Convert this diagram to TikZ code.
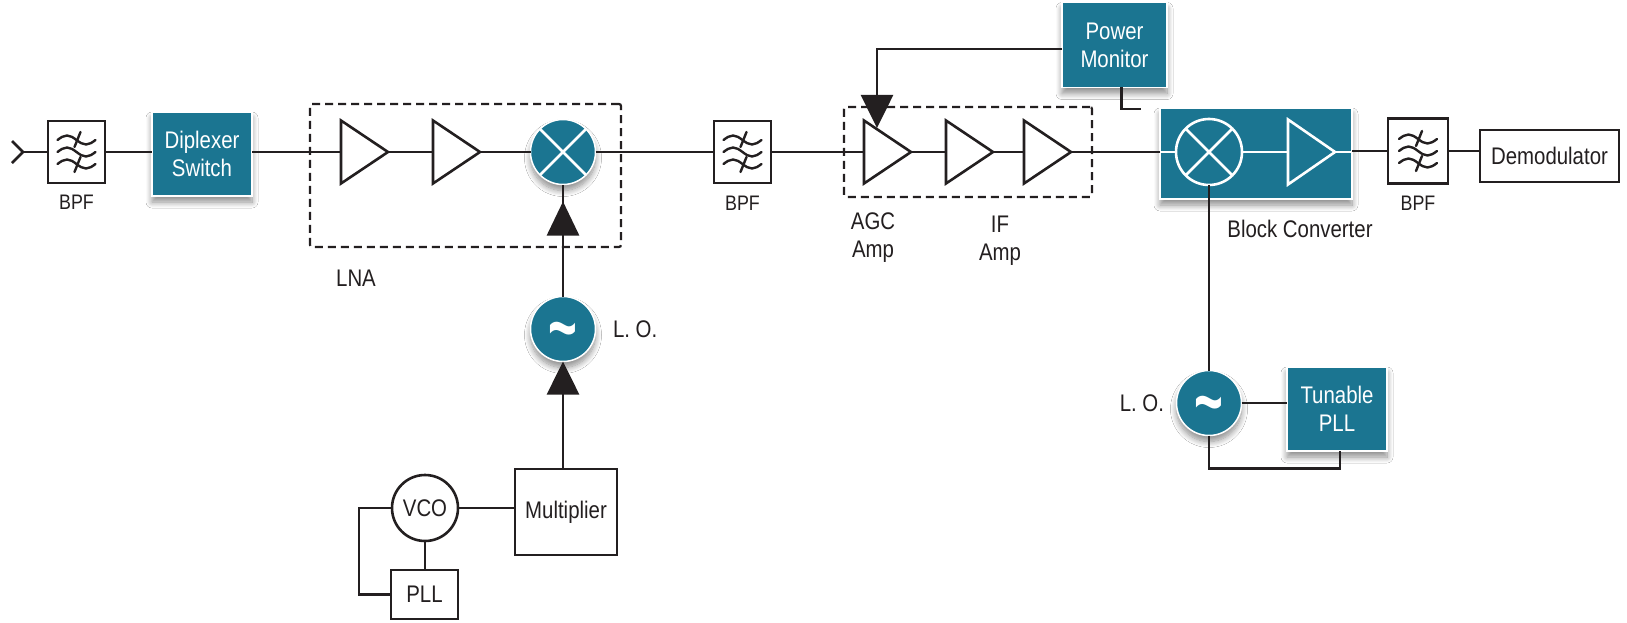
\documentclass[tikz,border=0pt]{standalone}
\usepackage{fontspec}
\setmainfont{Liberation Sans}[FakeStretch=0.85]
\usetikzlibrary{shapes.geometric,arrows.meta,shadows.blur,calc}
\definecolor{teal1}{RGB}{27,117,145}
\definecolor{ink}{RGB}{35,31,32}
\newcommand\filtsym[1]{%
  \foreach \dy in {-12,0,12}{%
    \draw[ink, line width=2.4pt, line cap=round] ($(#1.center)+(-19,\dy)$) sin ++(9.5,-4.5) cos ++(9.5,4.5) sin ++(9.5,4.5) cos ++(9.5,-4.5);}
  \draw[ink, line width=2.4pt, line cap=round] ($(#1.center)+(4,-20)$) -- ($(#1.center)+(-2,-5)$);
  \draw[ink, line width=2.4pt, line cap=round] ($(#1.center)+(4,5)$) -- ($(#1.center)+(-2,20)$);
}
\newcommand\mixcross[1]{%
  \draw[white, line width=2.6pt] (#1.north east) -- (#1.south west) (#1.north west) -- (#1.south east);
}
\begin{document}
\begin{tikzpicture}[x=1pt,y=-1pt,
  every node/.style={inner sep=0pt, outer sep=0pt},
  txt/.style={font=\fontsize{24pt}{28pt}\selectfont, text=ink, align=center},
  bpflbl/.style={font=\fontsize{21pt}{24pt}\selectfont, text=ink},
  wire/.style={draw=ink, line width=2.6pt},
  bpfbox/.style={draw=ink, line width=2.6pt, fill=white, minimum width=57pt, minimum height=62pt},
  plainbox/.style={draw=ink, line width=2.6pt, fill=white, txt},
  softshadow/.style={blur shadow={shadow xshift=0pt, shadow yshift=-6pt, shadow blur radius=6pt, shadow blur steps=10, shadow opacity=45}},
  tealbox/.style={fill=teal1, draw=white, line width=1.5pt, text=white, font=\fontsize{24pt}{28pt}\selectfont, align=center, softshadow},
  tealcirc/.style={circle, fill=teal1, draw=white, line width=1.5pt, minimum size=65pt, softshadow},
  amp/.style={isosceles triangle, isosceles triangle stretches, draw=ink, line width=2.6pt, fill=white, minimum height=47pt, minimum width=63pt, anchor=west},
  wamp/.style={isosceles triangle, isosceles triangle stretches, draw=white, line width=2.6pt, minimum height=47pt, minimum width=65pt, anchor=west},
  dashbox/.style={draw=ink, line width=2.2pt, dash pattern=on 8pt off 5pt, rounded corners=2pt},
  bigarrow/.style={-{Triangle[length=34pt,width=32pt]}},
  tildetxt/.style={text=white, font=\fontsize{58pt}{58pt}\selectfont\bfseries, yshift=-10pt},
]
\fill[white] (0,0) rectangle (1627,623);
\useasboundingbox (0,0) rectangle (1627,623);

% antenna and first filter
\coordinate (ant) at (23,152);
\draw[wire] (12,141) -- (ant) -- (12,163);
\node[bpfbox] (bpf1) at (76.5,152) {};
\filtsym{bpf1}
\node[bpflbl] (bpf1l) at (76.5,202) {BPF};
\node[tealbox, minimum width=100pt, minimum height=84pt] (dip) at (202,154) {Diplexer\\Switch};

% LNA
\node[dashbox, minimum width=311pt, minimum height=143pt] (lnabox) at (465.5,175.5) {};
\node[amp] (a1) at (341,152) {};
\node[amp] (a2) at (433,152) {};
\node[tealcirc] (mix1) at (563,152) {};
\mixcross{mix1}
\node[txt] (lnal) at (356,278) {LNA};

% LO 1 chain
\node[tealcirc] (lo1) at (563,329) {};
\node[tildetxt] (lo1t) at (lo1) {\scalebox{1}[1.4]{\textasciitilde}};
\node[txt, anchor=west] (lo1l) at (613,329) {L. O.};
\node[plainbox, minimum width=102pt, minimum height=86pt] (mult) at (566,512) {Multiplier};
\node[circle, draw=ink, line width=2.6pt, fill=white, minimum size=66pt, txt] (vco) at (425,508) {VCO};
\node[plainbox, minimum width=67pt, minimum height=49pt] (pll) at (424.5,594.5) {PLL};

% second filter
\node[bpfbox] (bpf2) at (742.5,152) {};
\filtsym{bpf2}
\node[bpflbl] (bpf2l) at (742.5,203) {BPF};

% AGC / IF
\node[dashbox, minimum width=248pt, minimum height=90pt] (agcbox) at (968,152) {};
\node[amp] (a3) at (864,152) {};
\node[amp] (a4) at (946,152) {};
\node[amp] (a5) at (1024,152) {};
\node[txt] (agcl) at (873,238) {AGC\\Amp};
\node[txt] (ifl) at (1000,241) {IF\\Amp};

% power monitor
\node[tealbox, minimum width=105pt, minimum height=85pt] (pm) at (1114.5,45) {Power\\Monitor};
\coordinate (agcin) at (877,128);
\coordinate (stubend) at (1141,109);

% block converter
\node[tealbox, minimum width=192pt, minimum height=91pt] (bc) at (1256,153.5) {};
\node[circle, draw=white, line width=2.6pt, minimum size=66pt] (mix2) at (1209,152) {};
\mixcross{mix2}
\node[wamp] (btri) at (1288,152) {};
\node[txt] (bcl) at (1300,229) {Block Converter};

% LO 2
\node[tealcirc] (lo2) at (1209,403) {};
\node[tildetxt] (lo2t) at (lo2) {\scalebox{1}[1.4]{\textasciitilde}};
\node[txt, anchor=east] (lo2l) at (1164,403) {L. O.};
\node[tealbox, minimum width=100pt, minimum height=84pt] (tpll) at (1337,409) {Tunable\\PLL};

% output
\node[bpfbox, minimum width=60pt, minimum height=65pt] (bpf3) at (1418,151) {};
\filtsym{bpf3}
\node[bpflbl] (bpf3l) at (1418,203) {BPF};
\node[plainbox, minimum width=139pt, minimum height=52pt] (demod) at (1549.5,156) {Demodulator};

% connectors
\draw[wire] (ant) -- (bpf1.west);
\draw[wire] (bpf1.east) -- (bpf1.east -| dip.west);
\draw[wire] (dip.east |- a1.west) -- (a1.west);
\draw[wire] (a1.apex) -- (a2.west);
\draw[wire] (a2.apex) -- (mix1.west);
\draw[wire] (mix1.east) -- (bpf2.west);
\draw[wire] (bpf2.east) -- (a3.west);
\draw[wire] (a3.apex) -- (a4.west);
\draw[wire] (a4.apex) -- (a5.west);
\draw[wire] (a5.apex) -- (a5.apex -| bc.west);
\draw[white, line width=2.6pt] (bc.west |- mix2.west) -- (mix2.west);
\draw[white, line width=2.6pt] (mix2.east) -- (btri.west);
\draw[white, line width=2.6pt] (btri.apex) -- (btri.apex -| bc.east);
\draw[wire] (bc.east |- bpf3.west) -- (bpf3.west);
\draw[wire] (bpf3.east) -- (bpf3.east -| demod.west);

\draw[wire] (lo1.north) -- (mix1.south);
\draw[wire, bigarrow, shorten >=17pt] (lo1.north) -- (mix1.south);
\draw[wire, -{Triangle[length=33pt,width=32pt]}] (mult.north -| lo1) -- (lo1.south);
\draw[wire] (vco.east) -- (vco.east -| mult.west);
\draw[wire] (vco.south) -- (vco.south |- pll.north);
\draw[wire] (vco.west) -- ++(-33,0) |- (pll.west);

\draw[wire, -{Triangle[length=33pt,width=32pt]}] ([yshift=-4pt]pm.west) -| (agcin);
\draw[wire] ([xshift=7pt]pm.south) |- (stubend);

\draw[wire] (mix2.south) -- (lo2.north);
\draw[wire] (lo2.east) -- (lo2.east -| tpll.west);
\draw[wire] (lo2.south) -- ++(0,33) -| ([xshift=3pt]tpll.south);
\end{tikzpicture}
\end{document}
